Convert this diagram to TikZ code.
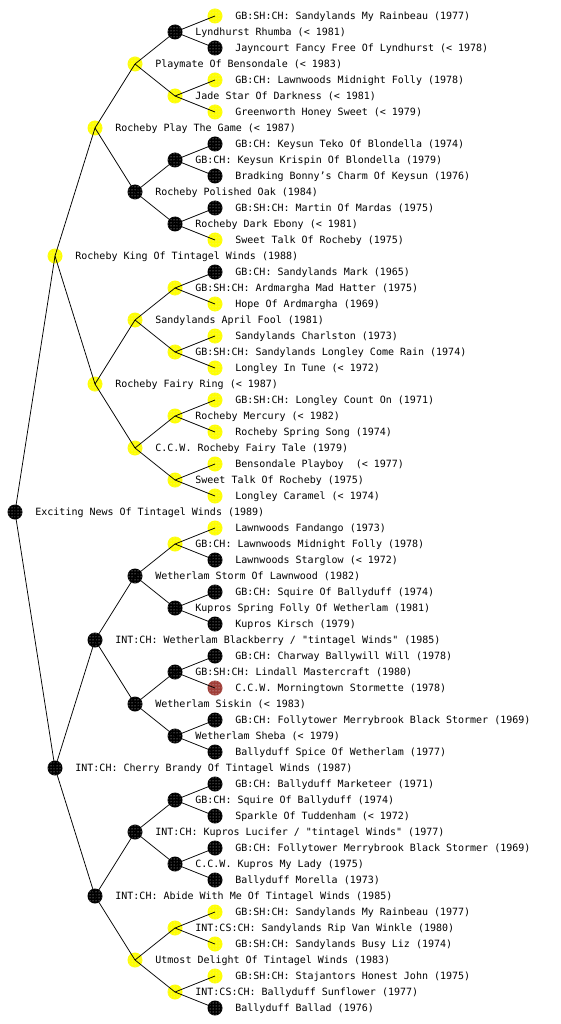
\documentclass[tikz,border=0pt]{standalone}
\usepackage{fontspec}
\newfontfamily\pedfont{DejaVu Sans Mono}
\usetikzlibrary{patterns}
\definecolor{mkyellow}{RGB}{255,255,0}
\definecolor{mkblack}{RGB}{0,0,0}
\definecolor{mkred}{RGB}{160,62,56}
\tikzset{
  mk/.style={circle,minimum size=15pt,inner sep=0pt,draw=none,
    postaction={pattern=dots,pattern color=white!80!gray}},
  lab/.style={inner sep=0pt,font=\pedfont\fontsize{10}{12}\selectfont,
    text height=7.2pt,text depth=0pt,text=black},
  edge/.style={draw=black,line width=0.75pt},
  every label/.style={lab},
  label distance=12.5pt
}
\newcommand{\pn}[5]{\node[mk,fill=#4,label={right:{#5}}] (#1) at (#2,#3) {};}
\begin{document}
\begin{tikzpicture}[x=1pt,y=-1pt]
\useasboundingbox[fill=white] (0,0) rectangle (560,1024);
% root
\pn{r}{15}{512}{mkblack}{Exciting News Of Tintagel Winds (1989)}
% generation 1
\pn{r0}{55}{256}{mkyellow}{Rocheby King Of Tintagel Winds (1988)}
\pn{r1}{55}{768}{mkblack}{INT:CH: Cherry Brandy Of Tintagel Winds (1987)}
% generation 2
\pn{r00}{95}{128}{mkyellow}{Rocheby Play The Game (< 1987)}
\pn{r01}{95}{384}{mkyellow}{Rocheby Fairy Ring (< 1987)}
\pn{r10}{95}{640}{mkblack}{INT:CH: Wetherlam Blackberry / "tintagel Winds" (1985)}
\pn{r11}{95}{896}{mkblack}{INT:CH: Abide With Me Of Tintagel Winds (1985)}
% generation 3
\pn{r000}{135}{64}{mkyellow}{Playmate Of Bensondale (< 1983)}
\pn{r001}{135}{192}{mkblack}{Rocheby Polished Oak (1984)}
\pn{r010}{135}{320}{mkyellow}{Sandylands April Fool (1981)}
\pn{r011}{135}{448}{mkyellow}{C.C.W. Rocheby Fairy Tale (1979)}
\pn{r100}{135}{576}{mkblack}{Wetherlam Storm Of Lawnwood (1982)}
\pn{r101}{135}{704}{mkblack}{Wetherlam Siskin (< 1983)}
\pn{r110}{135}{832}{mkblack}{INT:CH: Kupros Lucifer / "tintagel Winds" (1977)}
\pn{r111}{135}{960}{mkyellow}{Utmost Delight Of Tintagel Winds (1983)}
% generation 4
\pn{r0000}{175}{32}{mkblack}{Lyndhurst Rhumba (< 1981)}
\pn{r0001}{175}{96}{mkyellow}{Jade Star Of Darkness (< 1981)}
\pn{r0010}{175}{160}{mkblack}{GB:CH: Keysun Krispin Of Blondella (1979)}
\pn{r0011}{175}{224}{mkblack}{Rocheby Dark Ebony (< 1981)}
\pn{r0100}{175}{288}{mkyellow}{GB:SH:CH: Ardmargha Mad Hatter (1975)}
\pn{r0101}{175}{352}{mkyellow}{GB:SH:CH: Sandylands Longley Come Rain (1974)}
\pn{r0110}{175}{416}{mkyellow}{Rocheby Mercury (< 1982)}
\pn{r0111}{175}{480}{mkyellow}{Sweet Talk Of Rocheby (1975)}
\pn{r1000}{175}{544}{mkyellow}{GB:CH: Lawnwoods Midnight Folly (1978)}
\pn{r1001}{175}{608}{mkblack}{Kupros Spring Folly Of Wetherlam (1981)}
\pn{r1010}{175}{672}{mkblack}{GB:SH:CH: Lindall Mastercraft (1980)}
\pn{r1011}{175}{736}{mkblack}{Wetherlam Sheba (< 1979)}
\pn{r1100}{175}{800}{mkblack}{GB:CH: Squire Of Ballyduff (1974)}
\pn{r1101}{175}{864}{mkblack}{C.C.W. Kupros My Lady (1975)}
\pn{r1110}{175}{928}{mkyellow}{INT:CS:CH: Sandylands Rip Van Winkle (1980)}
\pn{r1111}{175}{992}{mkyellow}{INT:CS:CH: Ballyduff Sunflower (1977)}
% generation 5
\pn{r00000}{215}{16}{mkyellow}{GB:SH:CH: Sandylands My Rainbeau (1977)}
\pn{r00001}{215}{48}{mkblack}{Jayncourt Fancy Free Of Lyndhurst (< 1978)}
\pn{r00010}{215}{80}{mkyellow}{GB:CH: Lawnwoods Midnight Folly (1978)}
\pn{r00011}{215}{112}{mkyellow}{Greenworth Honey Sweet (< 1979)}
\pn{r00100}{215}{144}{mkblack}{GB:CH: Keysun Teko Of Blondella (1974)}
\pn{r00101}{215}{176}{mkblack}{Bradking Bonny’s Charm Of Keysun (1976)}
\pn{r00110}{215}{208}{mkblack}{GB:SH:CH: Martin Of Mardas (1975)}
\pn{r00111}{215}{240}{mkyellow}{Sweet Talk Of Rocheby (1975)}
\pn{r01000}{215}{272}{mkblack}{GB:CH: Sandylands Mark (1965)}
\pn{r01001}{215}{304}{mkyellow}{Hope Of Ardmargha (1969)}
\pn{r01010}{215}{336}{mkyellow}{Sandylands Charlston (1973)}
\pn{r01011}{215}{368}{mkyellow}{Longley In Tune (< 1972)}
\pn{r01100}{215}{400}{mkyellow}{GB:SH:CH: Longley Count On (1971)}
\pn{r01101}{215}{432}{mkyellow}{Rocheby Spring Song (1974)}
\pn{r01110}{215}{464}{mkyellow}{Bensondale Playboy\ \ (< 1977)}
\pn{r01111}{215}{496}{mkyellow}{Longley Caramel (< 1974)}
\pn{r10000}{215}{528}{mkyellow}{Lawnwoods Fandango (1973)}
\pn{r10001}{215}{560}{mkblack}{Lawnwoods Starglow (< 1972)}
\pn{r10010}{215}{592}{mkblack}{GB:CH: Squire Of Ballyduff (1974)}
\pn{r10011}{215}{624}{mkblack}{Kupros Kirsch (1979)}
\pn{r10100}{215}{656}{mkblack}{GB:CH: Charway Ballywill Will (1978)}
\pn{r10101}{215}{688}{mkred}{C.C.W. Morningtown Stormette (1978)}
\pn{r10110}{215}{720}{mkblack}{GB:CH: Follytower Merrybrook Black Stormer (1969)}
\pn{r10111}{215}{752}{mkblack}{Ballyduff Spice Of Wetherlam (1977)}
\pn{r11000}{215}{784}{mkblack}{GB:CH: Ballyduff Marketeer (1971)}
\pn{r11001}{215}{816}{mkblack}{Sparkle Of Tuddenham (< 1972)}
\pn{r11010}{215}{848}{mkblack}{GB:CH: Follytower Merrybrook Black Stormer (1969)}
\pn{r11011}{215}{880}{mkblack}{Ballyduff Morella (1973)}
\pn{r11100}{215}{912}{mkyellow}{GB:SH:CH: Sandylands My Rainbeau (1977)}
\pn{r11101}{215}{944}{mkyellow}{GB:SH:CH: Sandylands Busy Liz (1974)}
\pn{r11110}{215}{976}{mkyellow}{GB:SH:CH: Stajantors Honest John (1975)}
\pn{r11111}{215}{1008}{mkblack}{Ballyduff Ballad (1976)}
% connectors (centre to centre, drawn over the markers as in the reference)
\foreach \p in {r,r0,r1,r00,r01,r10,r11,r000,r001,r010,r011,r100,r101,r110,r111,
  r0000,r0001,r0010,r0011,r0100,r0101,r0110,r0111,r1000,r1001,r1010,r1011,r1100,r1101,r1110,r1111}
  {\draw[edge] (\p.center) -- (\p0.center) (\p.center) -- (\p1.center);}
\end{tikzpicture}
\end{document}
